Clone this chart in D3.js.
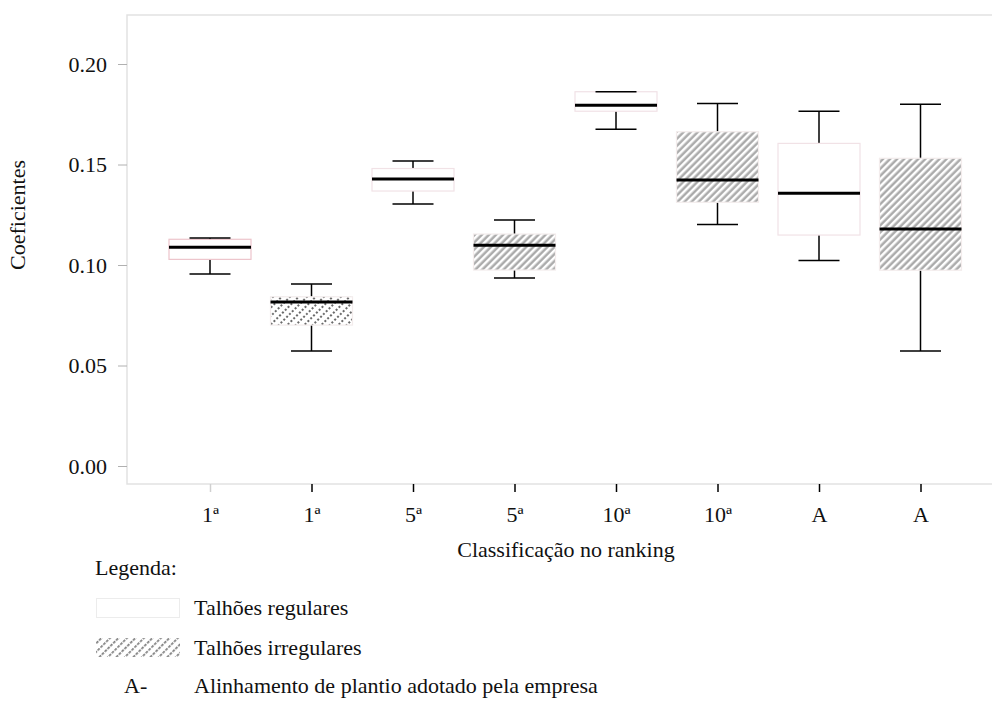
<!DOCTYPE html>
<html>
<head>
<meta charset="utf-8">
<script src="https://cdn.jsdelivr.net/npm/d3@7"></script>
<style>
  body { margin: 0; background: #fff; }
</style>
</head>
<body>
<div id="chart"></div>
<script>
// values
var categories = ["1ª", "1ª", "5ª", "5ª", "10ª", "10ª", "A", "A"];
var kinds = ["reg", "irr", "reg", "irr", "reg", "irr", "reg", "irr"];
var whiskerLow  = [0.0955, 0.0572, 0.1303, 0.0935, 0.1675, 0.1202, 0.1023, 0.0572];
var q1          = [0.1028, 0.0701, 0.1368, 0.0975, 0.1765, 0.1312, 0.1149, 0.0974];
var median      = [0.1088, 0.0816, 0.1428, 0.1098, 0.1795, 0.1423, 0.1357, 0.1179];
var q3          = [0.1128, 0.0842, 0.1480, 0.1154, 0.1862, 0.1663, 0.1605, 0.1531];
var whiskerHigh = [0.1134, 0.0905, 0.1517, 0.1224, 0.1862, 0.1804, 0.1765, 0.1800];
var yTicks = [0, 0.05, 0.10, 0.15, 0.20];

var width = 992, height = 702;
var frame = {left: 127, top: 15, bottom: 484};
var serif = "'Liberation Serif', 'Times New Roman', serif";
var fontSize = "22px";

var svg = d3.select("#chart").append("svg")
    .attr("width", width)
    .attr("height", height);

var defs = svg.append("defs");

// soft diagonal stripes for the irregular boxes
var soft = defs.append("pattern")
    .attr("id", "soft")
    .attr("patternUnits", "userSpaceOnUse")
    .attr("width", 5).attr("height", 5)
    .attr("patternTransform", "rotate(45)");
soft.append("rect").attr("width", 5).attr("height", 5).attr("fill", "#fff");
soft.append("rect").attr("x", 0.5).attr("width", 2.4).attr("height", 5).attr("fill", "#a8a8a8");

// dotted diagonal stripes (first irregular box)
var dots = defs.append("pattern")
    .attr("id", "dots")
    .attr("patternUnits", "userSpaceOnUse")
    .attr("width", 6).attr("height", 4)
    .attr("patternTransform", "rotate(45)");
dots.append("rect").attr("width", 6).attr("height", 4).attr("fill", "#fff");
dots.append("rect").attr("width", 2).attr("height", 2).attr("fill", "#6a6a6a");

// dashed diagonal stripes for the legend swatch
var dashes = defs.append("pattern")
    .attr("id", "dashes")
    .attr("patternUnits", "userSpaceOnUse")
    .attr("width", 6).attr("height", 4)
    .attr("patternTransform", "rotate(45)");
dashes.append("rect").attr("width", 6).attr("height", 4).attr("fill", "#fff");
dashes.append("rect").attr("width", 1.8).attr("height", 2.8).attr("fill", "#808080");

var x = d3.scalePoint()
    .domain(d3.range(categories.length))
    .range([210, 920.5]);

var y = d3.scaleLinear()
    .domain([0, 0.2])
    .range([466, 64]);

var boxW = 82, capW = 41;

function label(sel) {
  return sel.style("font-family", serif).style("font-size", fontSize).attr("fill", "#111");
}

// frame
svg.append("path")
    .attr("d", "M" + width + "," + frame.top + "H" + frame.left + "V" + frame.bottom + "H" + width)
    .attr("fill", "none")
    .attr("stroke", "#e2e2e2")
    .attr("stroke-width", 1.5);

// y axis
var yAxis = svg.append("g")
    .attr("transform", "translate(" + frame.left + ",0)")
    .call(d3.axisLeft(y).tickValues(yTicks).tickFormat(d3.format(".2f")).tickSize(9).tickPadding(11));
yAxis.select(".domain").remove();
yAxis.selectAll(".tick line").attr("stroke", "#b0b0b0");
label(yAxis.selectAll(".tick text"));

// x axis
var xAxis = svg.append("g")
    .attr("transform", "translate(0," + frame.bottom + ")")
    .call(d3.axisBottom(x).tickFormat(function (i) { return categories[i]; }).tickSize(8).tickPadding(14));
xAxis.select(".domain").remove();
xAxis.selectAll(".tick line")
    .attr("stroke", function (i) { return i === 0 ? "#d0d0d0" : "#000"; })
    .attr("stroke-width", 1.5);
label(xAxis.selectAll(".tick text"));

label(svg.append("text"))
    .attr("x", 566).attr("y", 557)
    .attr("text-anchor", "middle")
    .text("Classificação no ranking");

label(svg.append("text"))
    .attr("transform", "translate(25,215) rotate(-90)")
    .attr("text-anchor", "middle")
    .text("Coeficientes");

// boxes
var boxes = svg.append("g").selectAll("g")
    .data(d3.range(categories.length))
    .enter().append("g");

boxes.append("line")
    .attr("x1", function (i) { return x(i); })
    .attr("x2", function (i) { return x(i); })
    .attr("y1", function (i) { return y(whiskerHigh[i]); })
    .attr("y2", function (i) { return y(whiskerLow[i]); })
    .attr("stroke", "#000").attr("stroke-width", 1.5);

boxes.append("rect")
    .attr("x", function (i) { return x(i) - boxW / 2; })
    .attr("y", function (i) { return y(q3[i]); })
    .attr("width", boxW)
    .attr("height", function (i) { return y(q1[i]) - y(q3[i]); })
    .attr("fill", function (i) {
      if (kinds[i] === "reg") return "#fff";
      return i === 1 ? "url(#dots)" : "url(#soft)";
    })
    .attr("stroke", function (i) {
      if (i === 0) return "#edc4cb";
      return kinds[i] === "reg" ? "#f1e2e6" : "#f3ecec";
    })
    .attr("stroke-width", 1.2);

["high", "low"].forEach(function (w) {
  boxes.append("line")
    .attr("x1", function (i) { return x(i) - capW / 2; })
    .attr("x2", function (i) { return x(i) + capW / 2; })
    .attr("y1", function (i) { return y(w === "high" ? whiskerHigh[i] : whiskerLow[i]); })
    .attr("y2", function (i) { return y(w === "high" ? whiskerHigh[i] : whiskerLow[i]); })
    .attr("stroke", "#000").attr("stroke-width", 1.5);
});

boxes.append("line")
    .attr("x1", function (i) { return x(i) - boxW / 2; })
    .attr("x2", function (i) { return x(i) + boxW / 2; })
    .attr("y1", function (i) { return y(median[i]); })
    .attr("y2", function (i) { return y(median[i]); })
    .attr("stroke", "#000").attr("stroke-width", 3);

// legend
var legend = svg.append("g");
label(legend.append("text")).attr("x", 95).attr("y", 575).text("Legenda:");
legend.append("rect").attr("x", 96.5).attr("y", 598.5).attr("width", 83).attr("height", 19)
    .attr("fill", "#fff").attr("stroke", "#ececec");
label(legend.append("text")).attr("x", 194).attr("y", 615).text("Talhões regulares");
legend.append("rect").attr("x", 96).attr("y", 638).attr("width", 84).attr("height", 19)
    .attr("fill", "url(#dashes)");
label(legend.append("text")).attr("x", 194).attr("y", 655).text("Talhões irregulares");
label(legend.append("text")).attr("x", 124).attr("y", 693).text("A-");
label(legend.append("text")).attr("x", 194).attr("y", 693).text("Alinhamento de plantio adotado pela empresa");
</script>
</body>
</html>
